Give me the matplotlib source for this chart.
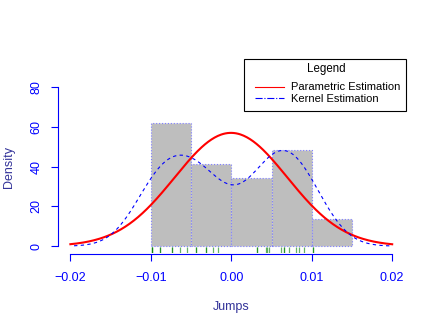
import numpy as np
import matplotlib
matplotlib.use("Agg")
import matplotlib.pyplot as plt
from matplotlib.lines import Line2D
from matplotlib.patches import Rectangle
import matplotlib.transforms as mtransforms

plt.rcParams['font.family'] = ['Liberation Sans', 'DejaVu Sans']

jumps = [-0.0099, -0.0099, -0.0099, -0.0088, -0.0088, -0.0074, -0.0074, -0.0064, -0.0055,
         -0.0044, -0.0044, -0.0031, -0.0031, -0.0023, -0.0017,
         0.0032, 0.0032, 0.0043, 0.0045, 0.0047,
         0.0062, 0.0065, 0.0065, 0.0072, 0.0080, 0.0084, 0.0091,
         0.0101, 0.0101]
bin_edges = [-0.010, -0.005, 0.000, 0.005, 0.010, 0.015]
x_ticks = [-0.02, -0.01, 0.00, 0.01, 0.02]
y_ticks = [0, 20, 40, 60, 80]

jumps = np.array(jumps)
n = len(jumps)

# parametric fit
mu = jumps.mean()
sigma = jumps.std(ddof=1)
xs = np.linspace(-0.02, 0.02, 300)
normal_y = np.exp(-0.5 * ((xs - mu) / sigma) ** 2) / (sigma * np.sqrt(2 * np.pi))

# kernel estimate, bandwidth like R's bw.nrd0
q1, q3 = np.percentile(jumps, [25, 75])
bw = 0.9 * min(sigma, (q3 - q1) / 1.34) * n ** -0.2
kx = np.linspace(jumps.min() - 3 * bw, jumps.max() + 3 * bw, 512)
ky = np.exp(-0.5 * ((kx[:, None] - jumps[None, :]) / bw) ** 2).sum(axis=1) / (n * bw * np.sqrt(2 * np.pi))

W, H = 436, 327
fig = plt.figure(figsize=(W / 100, H / 100), dpi=100)
ax = fig.add_axes([0.1319, 0.2278, 0.929 - 0.1319, 0.7532 - 0.2278])

ax.hist(jumps, bins=bin_edges, density=True, color='#bebebe',
        edgecolor='#8080ff', linestyle=':', linewidth=0.8)
ax.plot(xs, normal_y, color='red', lw=1.5)
ax.plot(kx, ky, color='blue', lw=0.8, linestyle=(0, (3, 3)))

# rug
trans = mtransforms.blended_transform_factory(ax.transData, ax.transAxes)
ax.vlines(jumps, 0, 0.03, transform=trans, colors='green', alpha=0.6, lw=0.9)

ax.set_xlim(-0.0216, 0.0216)
ax.set_ylim(-3.2, 83.2)
for s in ['top', 'right']:
    ax.spines[s].set_visible(False)
ax.spines['left'].set_bounds(0, 80)
ax.spines['bottom'].set_bounds(-0.02, 0.02)
ax.spines['bottom'].set_position(('outward', 1))
for s in ['left', 'bottom']:
    ax.spines[s].set_color('blue')
    ax.spines[s].set_linewidth(0.8)

ax.set_xticks(x_ticks)
ax.set_xticklabels(['\u22120.02', '\u22120.01', '0.00', '0.01', '0.02'])
ax.set_yticks(y_ticks)
ax.set_yticklabels([str(v) for v in y_ticks], rotation=90, va='center')
ax.tick_params(colors='blue', labelcolor='blue', length=5, width=0.8, labelsize=9)
ax.tick_params(axis='x', pad=8)
ax.tick_params(axis='y', pad=6)

ax.set_xlabel('Jumps', color='#333399', fontsize=9, labelpad=12)
ax.set_ylabel('Density', color='#333399', fontsize=9, labelpad=11)

# legend: box and title drawn by hand, entries without frame
fig.patches.append(Rectangle((244 / W, 1 - 110.5 / H), 161.7 / W, 51.2 / H,
                             transform=fig.transFigure, facecolor='white',
                             edgecolor='black', lw=0.8, zorder=5))
fig.text(326 / W, 1 - 69 / H, 'Legend', ha='center', va='center',
         fontsize=8.3, zorder=6)
handles = [Line2D([], [], color='red', lw=0.8),
           Line2D([], [], color='blue', lw=0.8, linestyle='-.')]
leg = fig.legend(handles, ['Parametric Estimation', 'Kernel Estimation'],
                 loc='upper left', bbox_to_anchor=(255 / W, 1 - 82.5 / H),
                 fontsize=8.0, frameon=False,
                 handlelength=2.6, labelspacing=0.1, borderpad=0,
                 borderaxespad=0, handletextpad=0.6)
leg.set_zorder(6)

fig.savefig('out.png', dpi=100)
